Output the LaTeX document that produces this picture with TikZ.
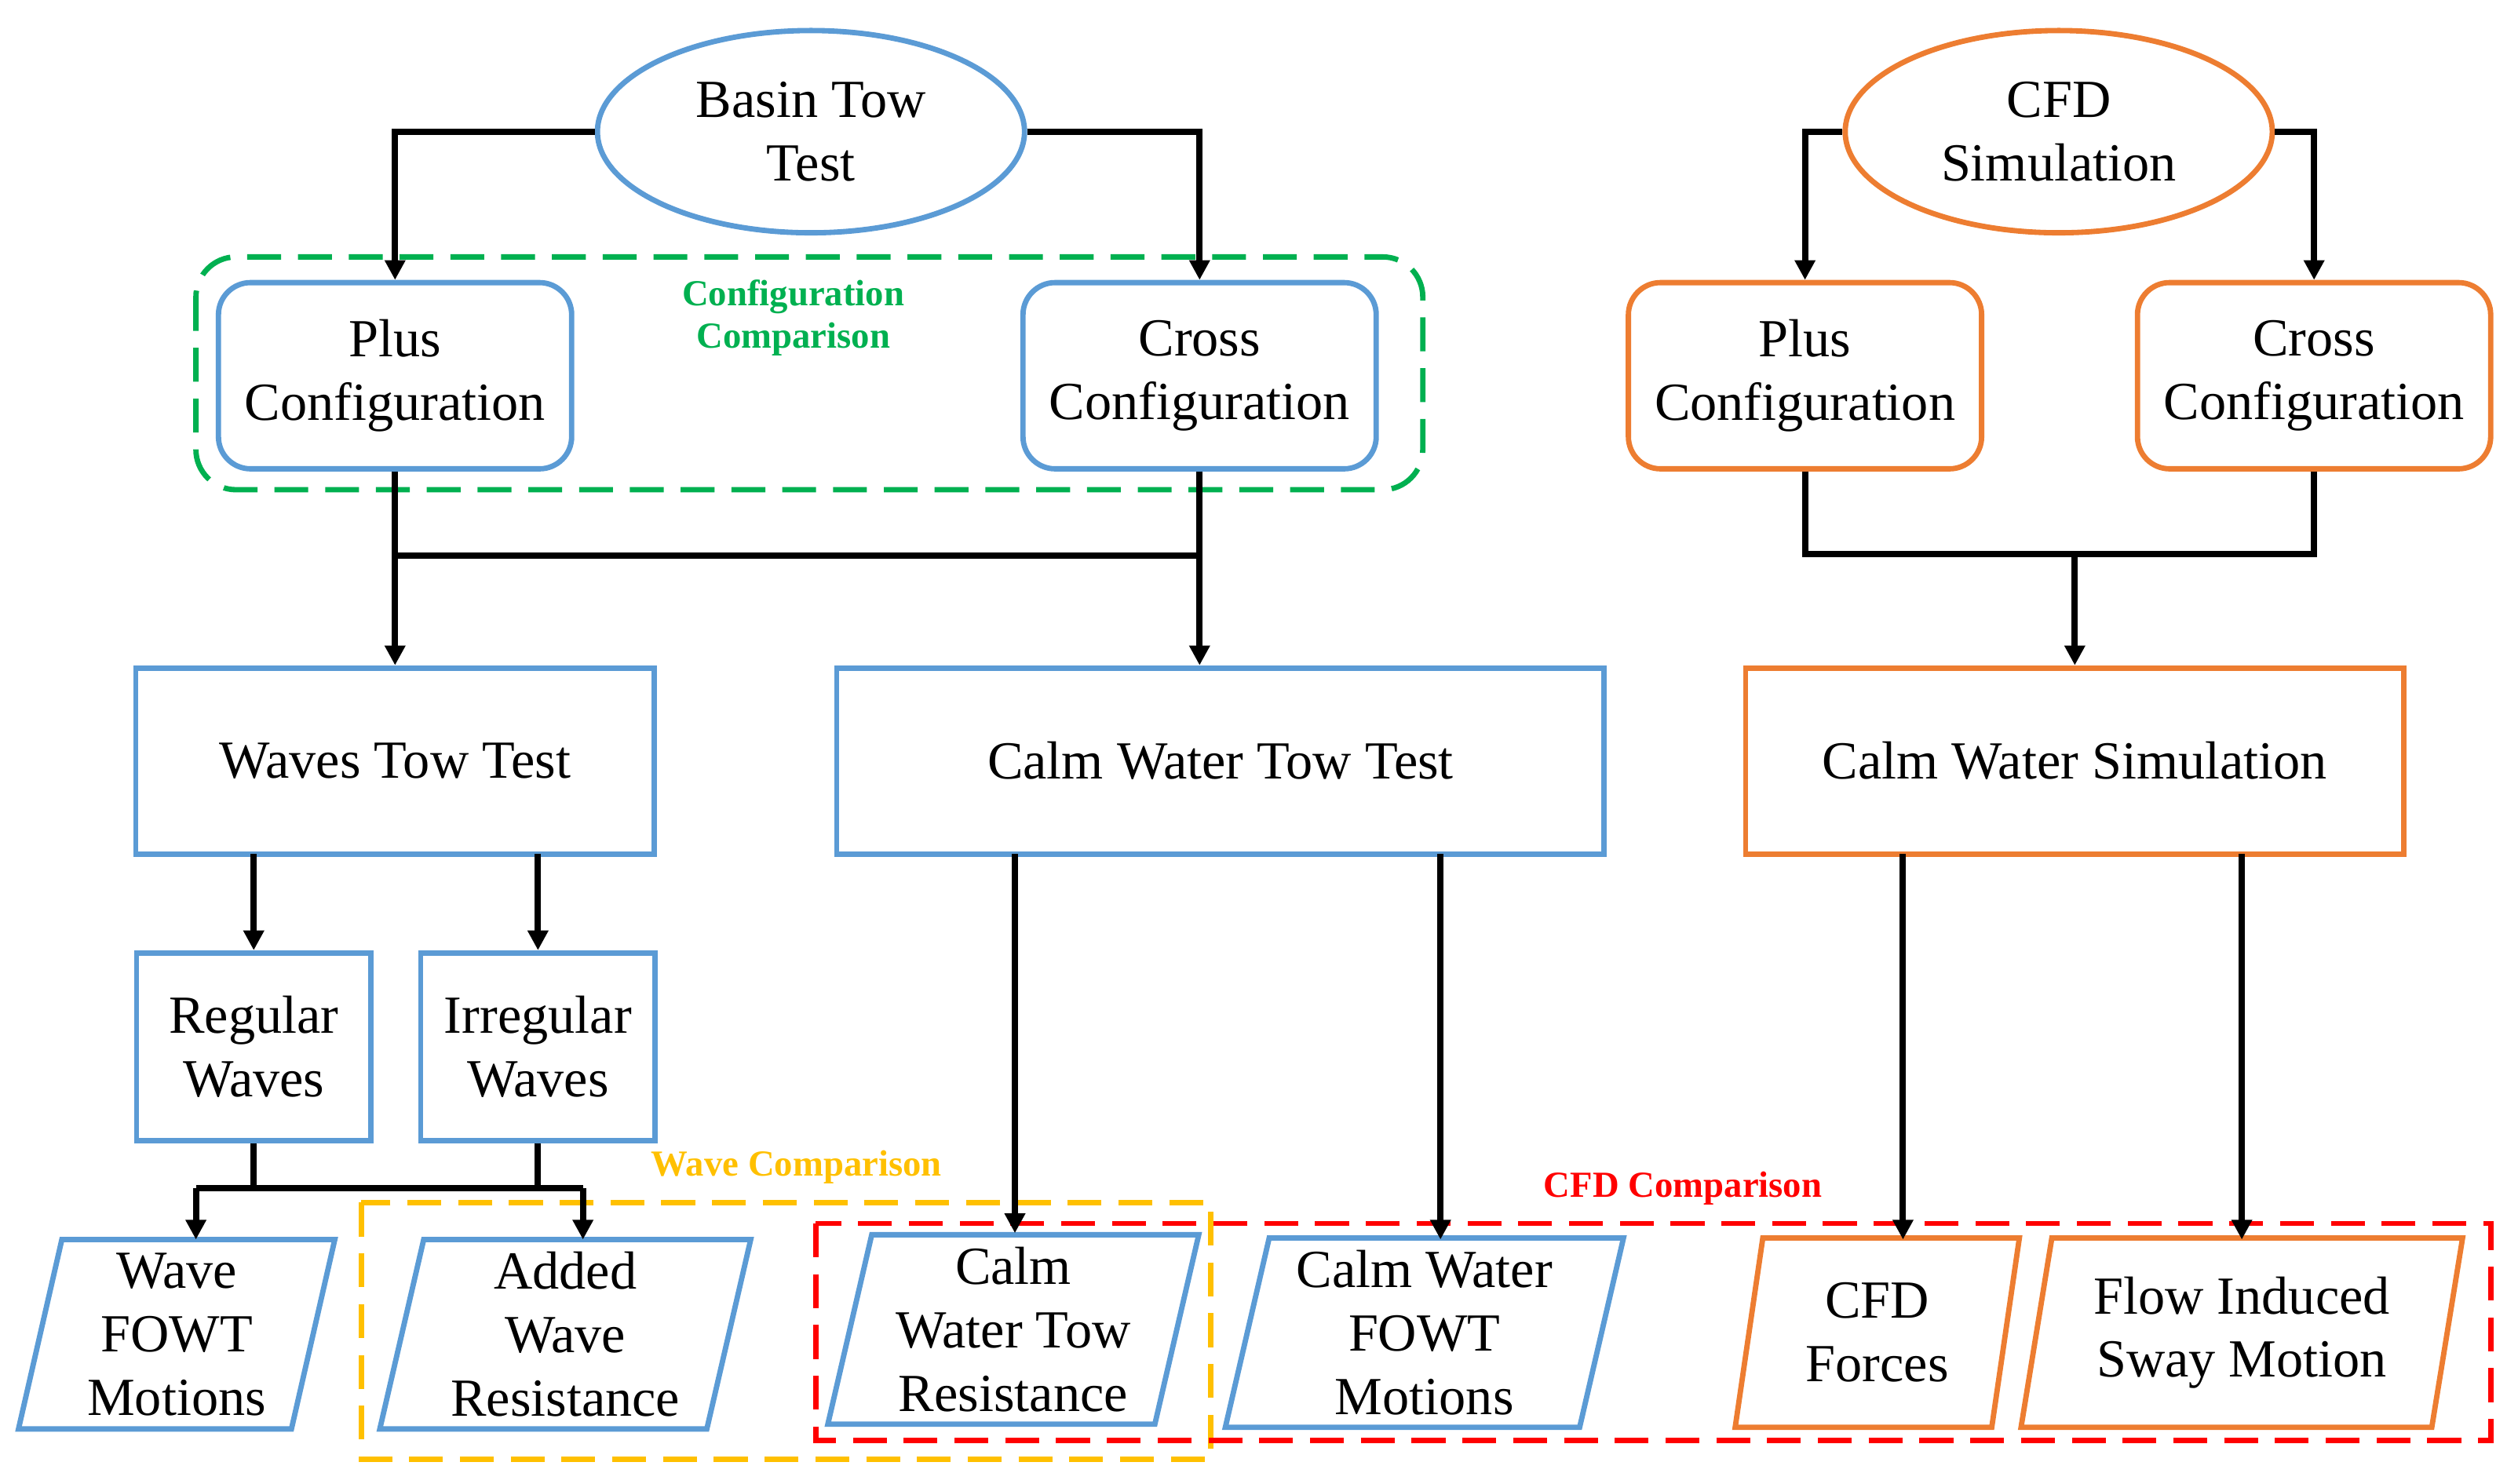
\documentclass[tikz,border=0pt]{standalone}
\usepackage{fontspec}
\setmainfont{Liberation Serif}
\usetikzlibrary{shapes.geometric,arrows.meta}
\definecolor{bl}{RGB}{91,155,213}
\definecolor{og}{RGB}{237,125,49}
\definecolor{gr}{RGB}{0,176,80}
\definecolor{yl}{RGB}{255,192,0}
\definecolor{rd}{RGB}{255,0,0}
\begin{document}
\begin{tikzpicture}[x=0.02cm,y=-0.02cm,
 every node/.style={font=\fontsize{19}{22.5}\selectfont,align=center,line width=1.9pt,inner sep=2pt},
 ell/.style={draw,ellipse,minimum width=5.32cm,minimum height=2.52cm},
 rbox/.style={draw,rounded corners=0.4cm,minimum width=4.4cm,minimum height=2.32cm},
 box/.style={draw,minimum height=2.32cm},
 par/.style={draw,trapezium,trapezium left angle=76,trapezium right angle=104,trapezium stretches body,minimum height=2.36cm},
 arr/.style={line width=2.2pt,-{Triangle[length=7pt,width=7pt]}},
 ln/.style={line width=2.2pt},
 dsh/.style={line width=1.9pt,dash pattern=on 12pt off 6pt},
 lab/.style={font=\fontsize{13}{15}\selectfont\bfseries}]
\useasboundingbox (0,0) rectangle (1568,924);
\node[ell,bl] (basin) at (505,82) {\textcolor{black}{Basin Tow}\\\textcolor{black}{Test}};
\node[ell,og] (cfd) at (1282,82) {\textcolor{black}{CFD}\\\textcolor{black}{Simulation}};
\node[rbox,bl] (plus) at (246,234) {\textcolor{black}{Plus}\\\textcolor{black}{Configuration}};
\node[rbox,bl] (cross) at (747,234) {\textcolor{black}{Cross}\\\textcolor{black}{Configuration}};
\node[rbox,og] (oplus) at (1124,234) {\textcolor{black}{Plus}\\\textcolor{black}{Configuration}};
\node[rbox,og] (ocross) at (1441,234) {\textcolor{black}{Cross}\\\textcolor{black}{Configuration}};
\draw[gr,dsh,rounded corners=0.5cm] (122,160) rectangle (886,305);
\node[lab,gr] (cc) at (494,198) {Configuration\\Comparison};
\node[box,bl,minimum width=6.46cm] (waves) at (246,474) {\textcolor{black}{Waves Tow Test}};
\node[box,bl,minimum width=9.56cm] (calm) at (760,474) {\textcolor{black}{Calm Water Tow Test}};
\node[box,og,minimum width=8.2cm] (sim) at (1292,474) {\textcolor{black}{Calm Water Simulation}};
\node[box,bl,minimum width=2.92cm,minimum height=2.34cm] (reg) at (158,652) {\textcolor{black}{Regular}\\\textcolor{black}{Waves}};
\node[box,bl,minimum width=2.92cm,minimum height=2.34cm] (irr) at (335,652) {\textcolor{black}{Irregular}\\\textcolor{black}{Waves}};
\node[par,bl,minimum width=3.94cm] (wf) at (110,831) {\textcolor{black}{Wave}\\\textcolor{black}{FOWT}\\\textcolor{black}{Motions}};
\node[par,bl,minimum width=4.62cm] (aw) at (352,831) {\textcolor{black}{Added}\\\textcolor{black}{Wave}\\\textcolor{black}{Resistance}};
\node[par,bl,minimum width=4.62cm] (ct) at (631,828) {\textcolor{black}{Calm}\\\textcolor{black}{Water Tow}\\\textcolor{black}{Resistance}};
\node[par,bl,minimum width=4.96cm] (cf) at (887,830) {\textcolor{black}{Calm Water}\\\textcolor{black}{FOWT}\\\textcolor{black}{Motions}};
\node[par,og,minimum width=3.54cm] (cforce) at (1169,830) {\textcolor{black}{CFD}\\\textcolor{black}{Forces}};
\node[par,og,minimum width=5.5cm] (flow) at (1396,830) {\textcolor{black}{Flow Induced}\\\textcolor{black}{Sway Motion}};
\draw[yl,dsh] (225,749) rectangle (754,909);
\node[lab,yl] (wc) at (496,727) {Wave Comparison};
\draw[rd,dsh] (508,762) rectangle (1551,897);
\node[lab,rd] (cfc) at (1048,740) {CFD Comparison};
% connectors
\draw[arr] (basin.west) -| (plus.north);
\draw[arr] (basin.east) -| (cross.north);
\draw[arr] (cfd.west) -| (oplus.north);
\draw[arr] (cfd.east) -| (ocross.north);
\coordinate (j1) at (246,346);
\draw[arr] (plus.south) -- (plus.south |- waves.north);
\draw[arr] (cross.south) -- (cross.south |- calm.north);
\draw[ln] (j1) -- (j1 -| cross.south);
\coordinate (j2) at (1292,345);
\draw[ln] (oplus.south) |- (j2) -| (ocross.south);
\draw[arr] (j2) -- (j2 |- sim.north);
\coordinate (w1) at (158,532); \coordinate (w2) at (335,532);
\draw[arr] (w1) -- (w1 |- reg.north);
\draw[arr] (w2) -- (w2 |- irr.north);
\coordinate (k1) at (122,740); \coordinate (k2) at (363,740);
\draw[ln] (reg.south) -- (reg.south |- k1);
\draw[ln] (irr.south) -- (irr.south |- k1);
\draw[ln] (k1) -- (k2);
\draw[arr] (k1) -- (122,772);
\draw[arr] (k2) -- (363,772);
\coordinate (c1) at (632,532); \coordinate (c2) at (897,532);
\draw[arr] (c1) -- (632,768);
\draw[arr] (c2) -- (897,772);
\coordinate (s1) at (1185,532); \coordinate (s2) at (1396,532);
\draw[arr] (s1) -- (1185,772);
\draw[arr] (s2) -- (1396,772);
\end{tikzpicture}
\end{document}
